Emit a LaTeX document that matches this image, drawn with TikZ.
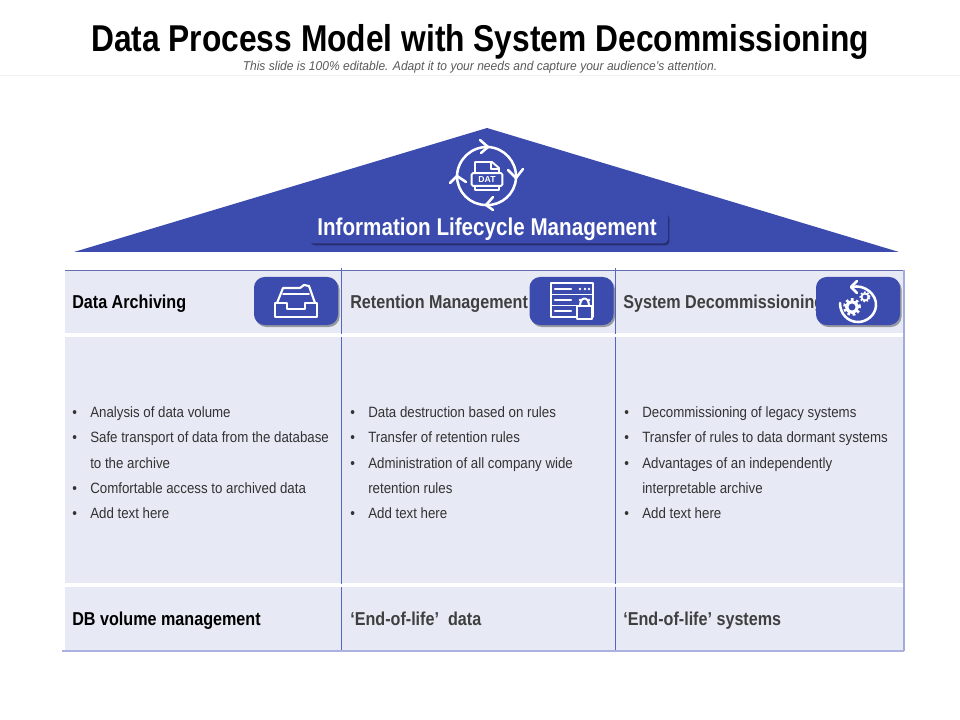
\documentclass[tikz,border=0pt]{standalone}
\usepackage{fontspec}
\setmainfont{Liberation Sans}
\newfontfamily\titlefont[FakeStretch=0.85]{Liberation Sans}
\newfontfamily\headfont[FakeStretch=0.865]{Liberation Sans}
\newfontfamily\bodyfont[FakeStretch=0.89]{Liberation Sans}
\newfontfamily\subfont[FakeStretch=0.94]{Liberation Sans}
\usetikzlibrary{shadows}
\definecolor{royal}{HTML}{3B4BAE}
\definecolor{cellfill}{HTML}{E7EAF5}
\definecolor{gridline}{HTML}{5666C0}
\definecolor{bodytext}{HTML}{333333}
\definecolor{headtext}{HTML}{3F3F3F}
\tikzset{
	cell/.style={fill=cellfill,draw=none,inner sep=0pt,anchor=north west},
	softshadow/.style={drop shadow={shadow xshift=1.2pt,shadow yshift=-1.5pt,opacity=.35,fill=black}},
	iconbox/.style={fill=royal,rounded corners=8pt,inner sep=0pt,minimum width=63pt,minimum height=36pt,softshadow},
	head/.style={anchor=base west,inner sep=0pt,font=\headfont\fontsize{14}{16}\selectfont\bfseries,text=headtext},
	bullettext/.style={anchor=base west,inner sep=0pt,font=\bodyfont\fontsize{11.2}{13}\selectfont,text=bodytext},
	icon/.style={draw=white,line width=1.9pt,line join=round,line cap=round}
}
\begin{document}
\begin{tikzpicture}[x=0.75pt,y=-0.75pt]
	\useasboundingbox (0,0) rectangle (960,720);
	% title
	\node (title) [anchor=base,inner sep=0pt,font=\titlefont\fontsize{28}{32}\selectfont\bfseries] at (480,52) {Data Process Model with System Decommissioning};
	\node (subtitle) [anchor=base,inner sep=0pt,text=black!65,font=\subfont\fontsize{9.6}{12}\selectfont\itshape] at (480,71) {This slide is 100\% editable. Adapt it to your needs and capture your audience’s attention.};
	\coordinate (ruleL) at (0,75);
	\coordinate (ruleR) at (960,75);
	\draw[black!6] (ruleL) -- (ruleR);
	% roof
	\coordinate (apex) at (487,128);
	\coordinate (roofL) at (74,252);
	\coordinate (roofR) at (899,252);
	\fill[royal] (apex) -- (roofR) -- (roofL) -- cycle;
	\node (roofbox) [fill=royal,rounded corners=3pt,minimum width=269pt,minimum height=23pt,inner sep=0pt,softshadow] at (488.5,228) {};
	\node (rooflabel) [anchor=base,inner sep=0pt,text=white,font=\titlefont\fontsize{18.2}{20}\selectfont\bfseries] at (487,236) {Information Lifecycle Management};
	% lifecycle icon
	\draw[icon] (488,147) to[bend left=45] (516,178);
	\draw[icon] (516,178) to[bend left=45] (486,205);
	\draw[icon] (486,205) to[bend left=45] (457,176);
	\draw[icon] (457,176) to[bend left=45] (488,147);
	\draw[icon] (480,140) -- (488,147) -- (481,153);
	\draw[icon] (508,170) -- (516,178) -- (523,169);
	\draw[icon] (493,197) -- (486,205) -- (493,210);
	\draw[icon] (450,183) -- (457,176) -- (466,182);
	\draw[icon,line width=1.4pt] (475,173) -- (475,162) -- (492,162) -- (499,168) -- (499,173);
	\draw[icon,line width=1pt] (491,162) -- (491,169) -- (499,169);
	\draw[icon,line width=1.4pt] (475,186) -- (475,190) -- (499,190) -- (499,186);
	\node (datbox) [draw=white,line width=1.4pt,fill=royal,minimum width=23pt,minimum height=9.5pt,inner sep=0pt,rounded corners=1pt,
		text=white,font=\fontsize{6.5}{7}\selectfont\bfseries] at (487,179.5) {DAT};
	% table cells
	\node (archhead) [cell,minimum width=207.75pt,minimum height=47.25pt] at (65,270) {};
	\node (archbody) [cell,minimum width=207.75pt,minimum height=184.5pt] at (65,337) {};
	\node (archfoot) [cell,minimum width=207.75pt,minimum height=48pt] at (65,587) {};
	\node (rethead) [cell,minimum width=206.25pt,minimum height=47.25pt] at (341,270) {};
	\node (retbody) [cell,minimum width=206.25pt,minimum height=184.5pt] at (341,337) {};
	\node (retfoot) [cell,minimum width=206.25pt,minimum height=48pt] at (341,587) {};
	\node (syshead) [cell,minimum width=216.75pt,minimum height=47.25pt] at (615,270) {};
	\node (sysbody) [cell,minimum width=216.75pt,minimum height=184.5pt] at (615,337) {};
	\node (sysfoot) [cell,minimum width=216.75pt,minimum height=48pt] at (615,587) {};
	% grid lines
	\foreach \x/\name in {341/a,615/b}{
		\coordinate (\name top) at (\x,268);
		\coordinate (\name gapA) at (\x,334);
		\coordinate (\name gapB) at (\x,337);
		\coordinate (\name gapC) at (\x,584);
		\coordinate (\name gapD) at (\x,587);
		\coordinate (\name end) at (\x,651);
		\draw[gridline,line width=0.5pt] (\name top) -- (\name gapA) (\name gapB) -- (\name gapC) (\name gapD) -- (\name end);
	}
	\coordinate (topL) at (65,270);
	\coordinate (topR) at (904,270);
	\coordinate (botL) at (62,651);
	\coordinate (botR) at (904,651);
	\draw[gridline!70!gray,line width=0.5pt] (topL) -- (topR);
	\draw[gridline!50!white,line width=1pt] (botL) -- (botR);
	\draw[gridline!55!white,line width=1pt] (topR) -- (botR);
	% column heads
	\node (archtitle) [head,text=black] at (72,309) {Data Archiving};
	\node (rettitle) [head] at (350,309) {Retention Management};
	\node (systitle) [head] at (623,309) {System Decommissioning};
	\node (archlast) [head,text=black] at (72,625) {DB volume management};
	\node (retlast) [head] at (350,625) {‘End-of-life’\ \ data};
	\node (syslast) [head] at (623,625) {‘End-of-life’ systems};
	% bullets
	\foreach \x/\y/\txt [count=\i] in {
		90/417/{Analysis of data volume},
		90/442/{Safe transport of data from the database},
		90/468/{to the archive},
		90/493/{Comfortable access to archived data},
		90/518/{Add text here},
		368/417/{Data destruction based on rules},
		368/442/{Transfer of retention rules},
		368/468/{Administration of all company wide},
		368/493/{retention rules},
		368/518/{Add text here},
		642/417/{Decommissioning of legacy systems},
		642/442/{Transfer of rules to data dormant systems},
		642/468/{Advantages of an independently},
		642/493/{interpretable archive},
		642/518/{Add text here}}
		\node (line\i) [bullettext] at (\x,\y) {\txt};
	\foreach \x/\y [count=\i] in {74/417,74/442,74/493,74/518,352/417,352/442,352/468,352/518,626/417,626/442,626/468,626/518}
		\node (dot\i) [bullettext] at (\x-2,\y) {•};
	% icon boxes
	\node (archicon) [iconbox] at (296,301) {};
	\node (reticon) [iconbox] at (571.5,301) {};
	\node (sysicon) [iconbox] at (858,301) {};
	% inbox
	\draw[icon] (275,303) -- (275,317) -- (317,317) -- (317,303) -- (305,303) -- (305,309) -- (287,309) -- (287,303) -- cycle;
	\draw[icon,line width=1.6pt] (277,303) -- (283,288) -- (300,288) -- (304,285) -- (309,286) -- (315,303);
	\draw[icon,line width=1.3pt] (283,294) -- (309,294);
	% server
	\draw[icon,line width=1.6pt] (551,283) rectangle (593,317);
	\draw[icon,line width=1.3pt] (551,294.5) -- (593,294.5) (551,305.5) -- (578,305.5);
	\foreach \y in {289,300,311}{
		\draw[icon,line width=1.6pt] (555,\y) -- (571,\y);
	}
	\foreach \x/\y in {580/289,585/289,589/289,580/300,589/300}{
		\fill[white] (\x,\y) circle (1pt);
	}
	\draw[icon,line width=1.5pt] (580,306) .. controls (580,296) and (589,296) .. (589,306);
	\draw[icon,line width=1.5pt,fill=royal] (577,306) rectangle (592,319);
	% gears
	\draw[icon] (852,287) .. controls (864,284) and (877,294) .. (876,306) .. controls (875,316) and (866,322) .. (858,322) .. controls (848,322) and (840,314) .. (840,303);
	\draw[icon] (857,281) -- (851,287) -- (857,293);
	\draw[white,line width=2.2pt,dash pattern=on 1.9pt off 1.9pt] (852,307) circle (5.6pt);
	\draw[white,line width=2.4pt] (852,307) circle (4pt);
	\draw[white,line width=1.5pt,dash pattern=on 1.2pt off 1.2pt] (865,297) circle (3.4pt);
	\draw[white,line width=1.3pt] (865,297) circle (2.6pt);
\end{tikzpicture}
\end{document}
